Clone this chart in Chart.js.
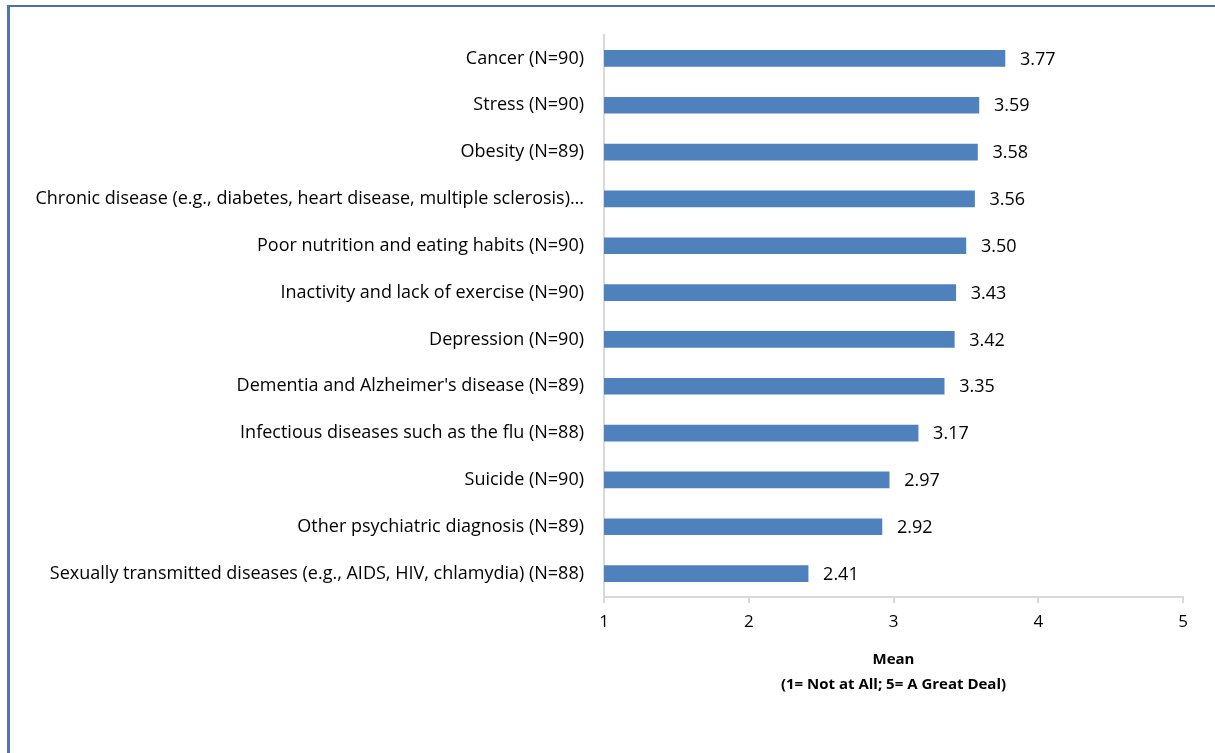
<!DOCTYPE html>
<html>
<head>
<meta charset="utf-8">
<script src="https://cdn.jsdelivr.net/npm/chart.js@4.4.0/dist/chart.umd.min.js"></script>
<style>
  html, body { margin: 0; padding: 0; background: #fff; }
  #frame {
    position: absolute; left: 7px; top: 5px; width: 1300px; height: 900px;
    border-left: 3px solid #5077ad; border-top: 2px solid #4a6fa5;
  }
  #chart { position: absolute; left: 0; top: 0; }
</style>
</head>
<body>
<div id="frame"></div>
<canvas id="chart" width="1215" height="753"></canvas>
<script>
const labels = [
    'Cancer (N=90)',
    'Stress (N=90)',
    'Obesity (N=89)',
    'Chronic disease (e.g., diabetes, heart disease, multiple sclerosis)…',
    'Poor nutrition and eating habits (N=90)',
    'Inactivity and lack of exercise (N=90)',
    'Depression (N=90)',
    "Dementia and Alzheimer's disease (N=89)",
    'Infectious diseases such as the flu (N=88)',
    'Suicide (N=90)',
    'Other psychiatric diagnosis (N=89)',
    'Sexually transmitted diseases (e.g., AIDS, HIV, chlamydia) (N=88)'
];
const means = [3.77, 3.59, 3.58, 3.56, 3.50, 3.43, 3.42, 3.35, 3.17, 2.97, 2.92, 2.41];
const axisTitle = ['Mean', '(1= Not at All; 5= A Great Deal)'];

const fontFamily = '"Open Sans", sans-serif';
const fontSize = 18;

// value labels right of each bar
const valueLabels = {
    id: 'valueLabels',
    afterDatasetsDraw(chart) {
        const ctx = chart.ctx;
        const meta = chart.getDatasetMeta(0);
        ctx.save();
        ctx.font = fontSize + 'px ' + fontFamily;
        ctx.fillStyle = '#000';
        ctx.textAlign = 'left';
        ctx.textBaseline = 'middle';
        meta.data.forEach((bar, i) => {
            ctx.fillText(means[i].toFixed(2), bar.x + 15, bar.y + 1);
        });
        ctx.restore();
    }
};

new Chart(document.getElementById('chart'), {
    type: 'bar',
    data: {
        labels: labels,
        datasets: [{
            data: means,
            backgroundColor: '#4f81bd',
            borderWidth: 0,
            barThickness: 16
        }]
    },
    options: {
        indexAxis: 'y',
        responsive: false,
        animation: false,
        layout: { padding: { top: 35, right: 32, bottom: 0, left: 0 } },
        plugins: { legend: { display: false }, tooltip: { enabled: false } },
        scales: {
            x: {
                min: 1, max: 5,
                ticks: { stepSize: 1, color: '#000', padding: 9, font: { family: fontFamily, size: 17 } },
                grid: { drawOnChartArea: false, drawTicks: true, tickLength: 6, color: '#d9d9d9', lineWidth: 2 },
                border: { color: '#d9d9d9', width: 2 },
                title: {
                    display: true,
                    text: axisTitle,
                    color: '#000',
                    font: { family: fontFamily, size: 15, weight: 'bold', lineHeight: 1.65 },
                    padding: { top: 0, bottom: 56 }
                },
                afterFit(scale) { scale.height = 156; }
            },
            y: {
                ticks: { color: '#000', padding: 20, font: { family: fontFamily, size: fontSize } },
                grid: { display: false, drawTicks: false },
                border: { color: '#d9d9d9', width: 2 },
                afterFit(scale) { scale.width = 604; }
            }
        }
    },
    plugins: [valueLabels]
});
</script>
</body>
</html>
